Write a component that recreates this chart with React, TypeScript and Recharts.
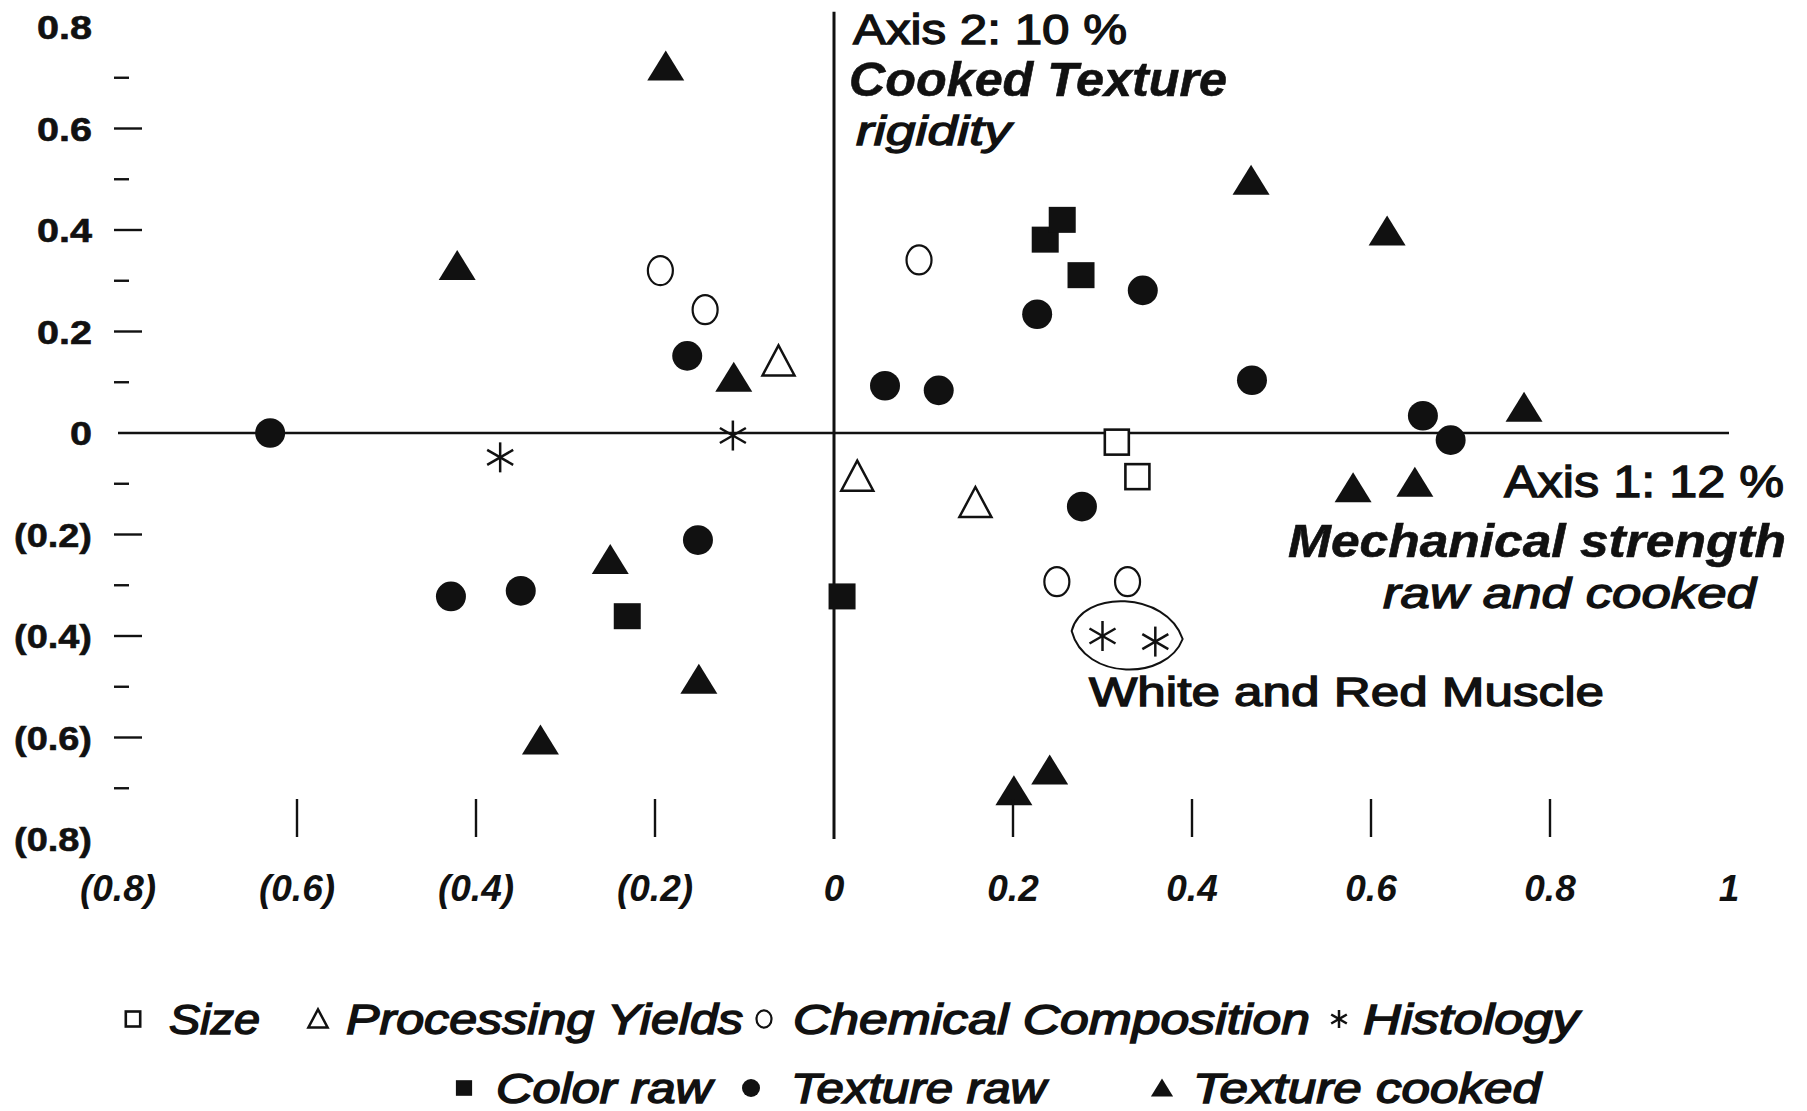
import React from "react";
import { Customized, Legend, ReferenceDot, ReferenceLine, Scatter, ScatterChart, XAxis, YAxis } from "recharts";

const FONT = '"Liberation Sans", Arial, Helvetica, sans-serif';
const INK = "#111";

const xTicks = [-0.8, -0.6, -0.4, -0.2, 0, 0.2, 0.4, 0.6, 0.8, 1];
const yTicks = [-0.8, -0.7, -0.6, -0.5, -0.4, -0.3, -0.2, -0.1, 0, 0.1, 0.2, 0.3, 0.4, 0.5, 0.6, 0.7, 0.8];

// [axis 1, axis 2] loadings
const sizePts = [[0.316, -0.018], [0.339, -0.086]];
const yieldPts = [[-0.062, 0.141], [0.026, -0.086], [0.158, -0.138]];
const chemPts = [[-0.194, 0.32], [-0.144, 0.243], [0.095, 0.341], [0.249, -0.293], [0.328, -0.293]];
const histoPts = [[-0.373, -0.048], [-0.113, -0.005], [0.3, -0.4], [0.359, -0.411]];
const colorRawPts = [[0.236, 0.381], [0.255, 0.42], [0.276, 0.311], [0.009, -0.322], [-0.231, -0.361]];
const textureRawPts = [
  [-0.63, 0], [-0.164, 0.152], [-0.428, -0.322], [-0.35, -0.311], [-0.152, -0.211], [0.057, 0.093],
  [0.117, 0.084], [0.227, 0.234], [0.345, 0.281], [0.277, -0.145], [0.467, 0.104], [0.658, 0.034], [0.689, -0.014],
];
const textureCookedPts = [
  [-0.188, 0.722], [-0.421, 0.329], [-0.112, 0.109], [-0.25, -0.25], [-0.151, -0.486], [-0.328, -0.606],
  [0.201, -0.706], [0.241, -0.665], [0.466, 0.497], [0.618, 0.397], [0.771, 0.05], [0.58, -0.109], [0.649, -0.098],
];
const muscleGroup = [0.327, -0.402];

const toPoints = (pts: number[][]) => pts.map(([x, y]) => ({ x, y }));

const fmt = (v: number) => {
  if (v === 0) return "0";
  if (v === 1) return "1";
  return v < 0 ? `(${Math.abs(v).toFixed(1)})` : v.toFixed(1);
};

type Mark = (cx: number, cy: number, k?: number) => React.ReactElement;

const openSquare: Mark = (cx, cy, k = 1) => (
  <rect x={cx - 12 * k} y={cy - 12.5 * k} width={24 * k} height={25 * k} fill="#fff" stroke={INK} strokeWidth={2.6} />
);
const filledSquare: Mark = (cx, cy, k = 1) => (
  <rect x={cx - 13.5 * k} y={cy - 13 * k} width={27 * k} height={26 * k} fill={INK} />
);
const openCircle: Mark = (cx, cy, k = 1) => (
  <ellipse cx={cx} cy={cy} rx={12.5 * k} ry={14.5 * k} fill="#fff" stroke={INK} strokeWidth={2.2} />
);
const filledCircle: Mark = (cx, cy, k = 1) => <ellipse cx={cx} cy={cy} rx={15 * k} ry={14.8 * k} fill={INK} />;
const openTriangle: Mark = (cx, cy, k = 1) => (
  <polygon
    points={`${cx},${cy - 16 * k} ${cx - 16 * k},${cy + 14 * k} ${cx + 16 * k},${cy + 14 * k}`}
    fill="#fff"
    stroke={INK}
    strokeWidth={2.5}
    strokeLinejoin="miter"
  />
);
const filledTriangle: Mark = (cx, cy, k = 1) => (
  <polygon points={`${cx},${cy - 16 * k} ${cx - 18.5 * k},${cy + 14 * k} ${cx + 18.5 * k},${cy + 14 * k}`} fill={INK} />
);
const asterisk: Mark = (cx, cy, k = 1) => (
  <g stroke={INK} strokeWidth={2.5} strokeLinecap="butt">
    <line x1={cx} y1={cy - 15 * k} x2={cx} y2={cy + 15 * k} />
    <line x1={cx - 13 * k} y1={cy - 7.5 * k} x2={cx + 13 * k} y2={cy + 7.5 * k} />
    <line x1={cx - 13 * k} y1={cy + 7.5 * k} x2={cx + 13 * k} y2={cy - 7.5 * k} />
  </g>
);

const series = [
  { name: "Size", pts: sizePts, mark: openSquare },
  { name: "Processing Yields", pts: yieldPts, mark: openTriangle },
  { name: "Chemical Composition", pts: chemPts, mark: openCircle },
  { name: "Histology", pts: histoPts, mark: asterisk },
  { name: "Color raw", pts: colorRawPts, mark: filledSquare },
  { name: "Texture raw", pts: textureRawPts, mark: filledCircle },
  { name: "Texture cooked", pts: textureCookedPts, mark: filledTriangle },
];

// legend placement in the page (symbol x, text x, text width, row)
const legendSpots: Record<string, { sx: number; tx: number; len: number; row: number }> = {
  Size: { sx: 133, tx: 169, len: 91, row: 0 },
  "Processing Yields": { sx: 318, tx: 346, len: 397, row: 0 },
  "Chemical Composition": { sx: 764, tx: 793, len: 517, row: 0 },
  Histology: { sx: 1339, tx: 1363, len: 216, row: 0 },
  "Color raw": { sx: 464, tx: 496, len: 216, row: 1 },
  "Texture raw": { sx: 751, tx: 791, len: 255, row: 1 },
  "Texture cooked": { sx: 1162, tx: 1193, len: 348, row: 1 },
};

const notes = [
  { text: "Axis 2: 10 %", x: 853, y: 44, size: 42, bold: false, italic: false, len: 274 },
  { text: "Cooked Texture", x: 849, y: 96, size: 48, bold: true, italic: true, len: 378 },
  { text: "rigidity", x: 856, y: 145, size: 40, bold: false, italic: true, len: 155 },
  { text: "Axis 1: 12 %", x: 1504, y: 497, size: 44, bold: false, italic: false, len: 280 },
  { text: "Mechanical strength", x: 1288, y: 557, size: 46, bold: true, italic: true, len: 498 },
  { text: "raw and cooked", x: 1383, y: 608, size: 42, bold: false, italic: true, len: 373 },
  { text: "White and Red Muscle", x: 1089, y: 706, size: 40, bold: false, italic: false, len: 515 },
];

function XTick({ x, y, payload }: any) {
  const v = payload.value as number;
  const showLine = v !== 0 && v !== -0.8 && v !== 1;
  return (
    <g>
      {showLine && <line x1={x} x2={x} y1={y - 40} y2={y - 2} stroke={INK} strokeWidth={2.4} />}
      <text x={x} y={y + 62} textAnchor="middle" fontFamily={FONT} fontSize={37} fontWeight="bold" fontStyle="italic" fill={INK}>
        {fmt(v)}
      </text>
    </g>
  );
}

function YTick({ x, y, payload }: any) {
  const v = payload.value as number;
  const tenths = Math.round(v * 10);
  const major = tenths % 2 === 0;
  const showDash = tenths !== 0 && Math.abs(tenths) !== 8;
  const label = fmt(v);
  return (
    <g>
      {showDash && <line x1={x - 4} x2={x + (major ? 24 : 11)} y1={y} y2={y} stroke={INK} strokeWidth={2.4} />}
      {major && (
        <text
          x={x - 26}
          y={y + 12}
          textAnchor="end"
          fontFamily={FONT}
          fontSize={33}
          fontWeight="bold"
          fill={INK}
          stroke={INK}
          strokeWidth={0.6}
          textLength={label.startsWith("(") ? 78 : label.length === 1 ? 22 : 55}
          lengthAdjust="spacingAndGlyphs"
        >
          {label}
        </text>
      )}
    </g>
  );
}

function Notes() {
  return (
    <g>
      {notes.map((n) => (
        <text
          key={n.text}
          x={n.x}
          y={n.y}
          fontFamily={FONT}
          fontSize={n.size}
          fontWeight={n.bold ? "bold" : "normal"}
          fontStyle={n.italic ? "italic" : "normal"}
          fill={INK}
          stroke={INK}
          strokeWidth={n.bold ? 0.6 : 1.3}
          textLength={n.len}
          lengthAdjust="spacingAndGlyphs"
        >
          {n.text}
        </text>
      ))}
    </g>
  );
}

function LegendBox() {
  const rowY = [74, 143];
  return (
    <svg width={1807} height={151} style={{ display: "block" }}>
      {series.map((s) => {
        const spot = legendSpots[s.name];
        const y = rowY[spot.row];
        return (
          <g key={s.name}>
            {s.mark(spot.sx, y - 15, 0.6)}
            <text
              x={spot.tx}
              y={y}
              fontFamily={FONT}
              fontSize={42}
              fontStyle="italic"
              fill={INK}
              stroke={INK}
              strokeWidth={1.5}
              textLength={spot.len}
              lengthAdjust="spacingAndGlyphs"
            >
              {s.name}
            </text>
          </g>
        );
      })}
    </svg>
  );
}

const lens = ({ cx, cy }: any) => (
  <path
    d={`M ${cx - 55} ${cy - 6} C ${cx - 45} ${cy - 48}, ${cx + 40} ${cy - 46}, ${cx + 56} ${cy + 2} C ${cx + 40} ${cy + 44}, ${cx - 42} ${cy + 44}, ${cx - 55} ${cy - 6} Z`}
    fill="none"
    stroke={INK}
    strokeWidth={2}
  />
);

export default function App() {
  return (
    <div style={{ position: "absolute", left: 0, top: 0, width: 1807, height: 1111, background: "#fff" }}>
      <ScatterChart width={1807} height={1111} margin={{ top: 27, right: 78, left: 0, bottom: 0 }}>
        <XAxis
          type="number"
          dataKey="x"
          domain={[-0.8, 1]}
          ticks={xTicks}
          interval={0}
          height={272}
          axisLine={false}
          tickLine={false}
          tickSize={0}
          tickMargin={0}
          tick={XTick}
        />
        <YAxis
          type="number"
          dataKey="y"
          domain={[-0.8, 0.8]}
          ticks={yTicks}
          interval={0}
          width={118}
          axisLine={false}
          tickLine={false}
          tickSize={0}
          tickMargin={0}
          tick={YTick}
        />
        <ReferenceLine y={0} stroke={INK} strokeWidth={2.7} />
        <ReferenceLine
          segment={[{ x: 0, y: -0.8 }, { x: 0, y: 0.83 }]}
          ifOverflow="visible"
          stroke={INK}
          strokeWidth={3}
        />
        <ReferenceDot x={muscleGroup[0]} y={muscleGroup[1]} ifOverflow="visible" shape={lens} />
        {series.map((s) => (
          <Scatter
            key={s.name}
            name={s.name}
            data={toPoints(s.pts)}
            isAnimationActive={false}
            shape={(p: any) => s.mark(p.cx, p.cy)}
          />
        ))}
        <Customized component={Notes} />
        <Legend
          layout="horizontal"
          verticalAlign="middle"
          align="center"
          wrapperStyle={{ position: "absolute", left: 0, top: 960, width: 1807, height: 151 }}
          content={() => <LegendBox />}
        />
      </ScatterChart>
    </div>
  );
}
